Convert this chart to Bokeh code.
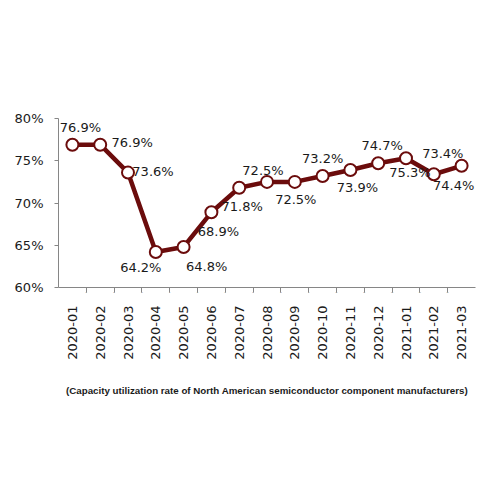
import numpy as np
from bokeh.plotting import figure
from bokeh.models import (ColumnDataSource, FactorRange, Range1d, LinearAxis,
                          CategoricalAxis, FixedTicker, PrintfTickFormatter,
                          Label, Title)
from bokeh.embed import file_html
from bokeh.resources import INLINE

months = ["2020-01", "2020-02", "2020-03", "2020-04", "2020-05", "2020-06",
          "2020-07", "2020-08", "2020-09", "2020-10", "2020-11", "2020-12",
          "2021-01", "2021-02", "2021-03"]
rates = [76.9, 76.9, 73.6, 64.2, 64.8, 68.9, 71.8, 72.5, 72.5, 73.2, 73.9,
         74.7, 75.3, 73.4, 74.4]
y_ticks = [60, 65, 70, 75, 80]
series_name = "(Capacity utilization rate of North American semiconductor component manufacturers)"

# label placement (screen px, dy positive = down)
label_dx = [8, 32, 25, -15, 23, 7, 3, -4, 1, 0, 7, 4, 4, 9, -8]
label_dy = [-17, -2, -1, 15, 20, 19, 19, -11, 18, -17, 17, -18, 14, -21, 20]

MAROON = "#6b0c0c"
FONT = "DejaVu Sans"
TXT = "#1a1a1a"
AXIS = "#868686"

src = ColumnDataSource(dict(month=months, rate=rates))

x_range = FactorRange(*months, range_padding=0)
p = figure(frame_width=417, frame_height=169, output_backend="svg",
           toolbar_location=None, x_range=x_range,
           y_range=Range1d(y_ticks[0], y_ticks[-1]),
           x_axis_location=None, y_axis_location=None,
           min_border_left=58, min_border_right=21, min_border_top=118,
           min_border_bottom=5)
p.outline_line_color = None
p.xgrid.visible = False
p.ygrid.visible = False
# boundary factors: one per gap between months, shifted half a slot
bounds = [f"b{i}" for i in range(len(months) + 1)]
p.extra_x_ranges = {"bounds": FactorRange(*bounds, range_padding=-0.5,
                                          range_padding_units="absolute")}

yax = LinearAxis(ticker=FixedTicker(ticks=y_ticks),
                 formatter=PrintfTickFormatter(format="%d%%"),
                 axis_line_color=AXIS, major_tick_line_color=AXIS,
                 major_tick_out=4, major_tick_in=0, minor_tick_line_color=None,
                 major_label_standoff=11,
                 major_label_text_font=FONT, major_label_text_font_size="13px",
                 major_label_text_color=TXT)
p.add_layout(yax, "left")

tick_ax = CategoricalAxis(x_range_name="bounds",
                          axis_line_color=AXIS, major_tick_line_color=AXIS,
                          major_tick_out=5, major_tick_in=0,
                          major_label_overrides={b: "" for b in bounds},
                          major_label_text_font_size="1px", major_label_standoff=0)
p.add_layout(tick_ax, "below")

lab_ax = CategoricalAxis(axis_line_color=None, major_tick_line_color=None,
                         major_label_orientation=np.pi / 2,
                         major_label_standoff=3,
                         major_label_text_font=FONT, major_label_text_font_size="13px",
                         major_label_text_color=TXT)
p.add_layout(lab_ax, "below")

ln = p.line("month", "rate", source=src, line_color=MAROON, line_width=4.5)
pts = p.scatter("month", "rate", source=src, size=12, fill_color="white",
                line_color=MAROON, line_width=2)

# value labels; x given in the factor range's synthetic coordinates
# (factor centre = index + 0.5)
for i, (v, dx, dy) in enumerate(zip(rates, label_dx, label_dy)):
    p.add_layout(Label(x=i + 0.5, y=v, text=f"{v:.1f}%", x_offset=dx, y_offset=-dy,
                       text_align="center", text_baseline="middle",
                       text_font=FONT, text_font_size="13px", text_color=TXT))

cap = Title(text=series_name, align="center", offset=-5, standoff=40,
            text_font="Liberation Sans", text_font_style="bold",
            text_font_size="9.75px", text_color=TXT)
p.add_layout(cap, "below")

open("out.html", "w").write(file_html(p, INLINE))
